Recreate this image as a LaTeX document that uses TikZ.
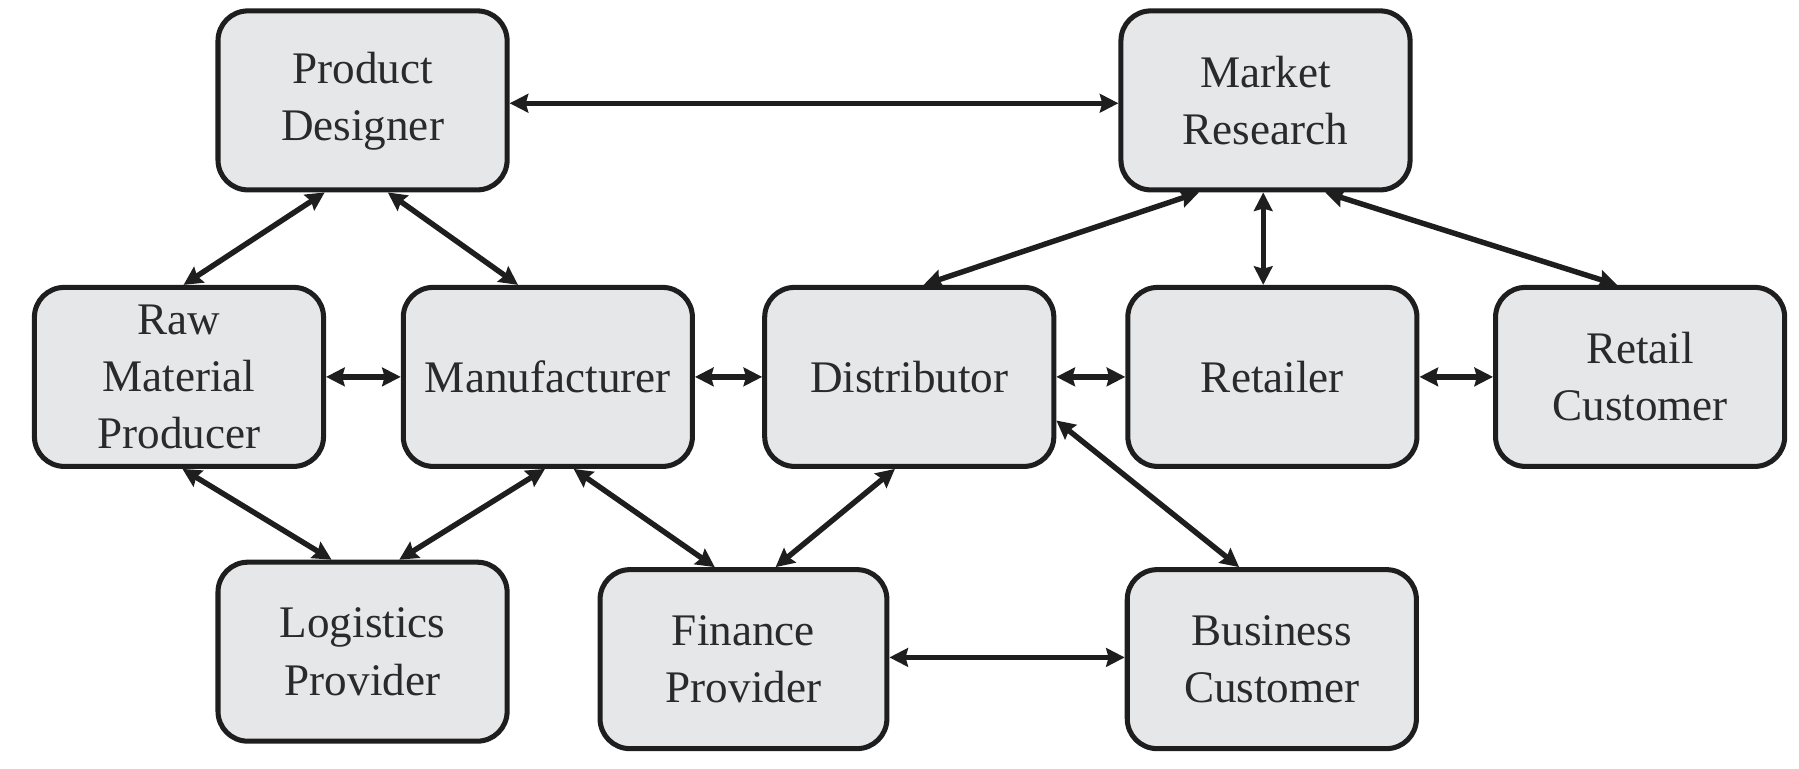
\documentclass[tikz,border=0pt]{standalone}
\usepackage{fontspec}
\setmainfont{Liberation Serif}
\usetikzlibrary{arrows.meta}
\definecolor{boxfill}{HTML}{E6E7E9}
\definecolor{ink}{HTML}{1E1E1E}
\definecolor{txt}{HTML}{2A2A2A}
\tikzset{
  blk/.style={draw=ink, line width=1.25pt, fill=boxfill, rounded corners=0.26cm,
    minimum width=2.52cm, minimum height=1.56cm, align=center, inner sep=2pt,
    font=\fontsize{11.2}{14.2}\selectfont, text=txt},
  link/.style={draw=ink, line width=1.35pt, {Stealth[length=4.6pt,width=4.6pt,inset=0.6pt]}-{Stealth[length=4.6pt,width=4.6pt,inset=0.6pt]}}
}
\begin{document}
\begin{tikzpicture}
\useasboundingbox (0,0) rectangle (15.68,-6.694);
% nodes
\node[blk] (pd)  at (3.16,-0.875)  {\raisebox{-0.05cm}{\begin{tabular}{@{}c@{}}Product\\[0pt]Designer\end{tabular}}};
\node[blk] (mr)  at (11.03,-0.875) {Market\\Research};
\node[blk] (raw) at (1.56,-3.285)  {Raw\\Material\\Producer};
\node[blk] (man) at (4.775,-3.285) {Manufacturer};
\node[blk] (dis) at (7.925,-3.285) {Distributor};
\node[blk] (ret) at (11.09,-3.285) {Retailer};
\node[blk] (rc)  at (14.295,-3.285){Retail\\Customer};
\node[blk] (log) at (3.16,-5.68)   {Logistics\\Provider};
\node[blk, minimum width=2.50cm] (fin) at (6.48,-5.745)  {Finance\\Provider};
\node[blk] (bc)  at (11.085,-5.745){Business\\Customer};
% connectors
\draw[link] ([yshift=-0.025cm]pd.east) -- ([yshift=-0.025cm]mr.west);
\draw[link] ([xshift=-0.33cm]pd.south) -- ([xshift=0.04cm]raw.north);
\draw[link] ([xshift=0.22cm]pd.south) -- ([xshift=-0.26cm]man.north);
\draw[link] (raw.east) -- (man.west);
\draw[link] (man.east) -- (dis.west);
\draw[link] (dis.east) -- (ret.west);
\draw[link] (ret.east) -- (rc.west);
\draw[link] ([xshift=-0.58cm]mr.south) -- ([xshift=0.125cm]dis.north);
\draw[link] ([xshift=-0.02cm]mr.south) -- ([xshift=-0.08cm]ret.north);
\draw[link] ([xshift=0.52cm]mr.south) -- ([xshift=-0.2cm]rc.north);
\draw[link] ([xshift=0.03cm]raw.south) -- ([xshift=-0.27cm]log.north);
\draw[link] ([xshift=-0.025cm]man.south) -- ([xshift=0.32cm]log.north);
\draw[link] ([xshift=0.225cm]man.south) -- ([xshift=-0.25cm]fin.north);
\draw[link] ([xshift=-0.125cm]dis.south) -- ([xshift=0.28cm]fin.north);
\draw[link] ([yshift=-0.38cm]dis.east) -- ([xshift=-0.285cm]bc.north);
\draw[link] ([yshift=0.015cm]fin.east) -- ([yshift=0.015cm]bc.west);
\end{tikzpicture}
\end{document}
